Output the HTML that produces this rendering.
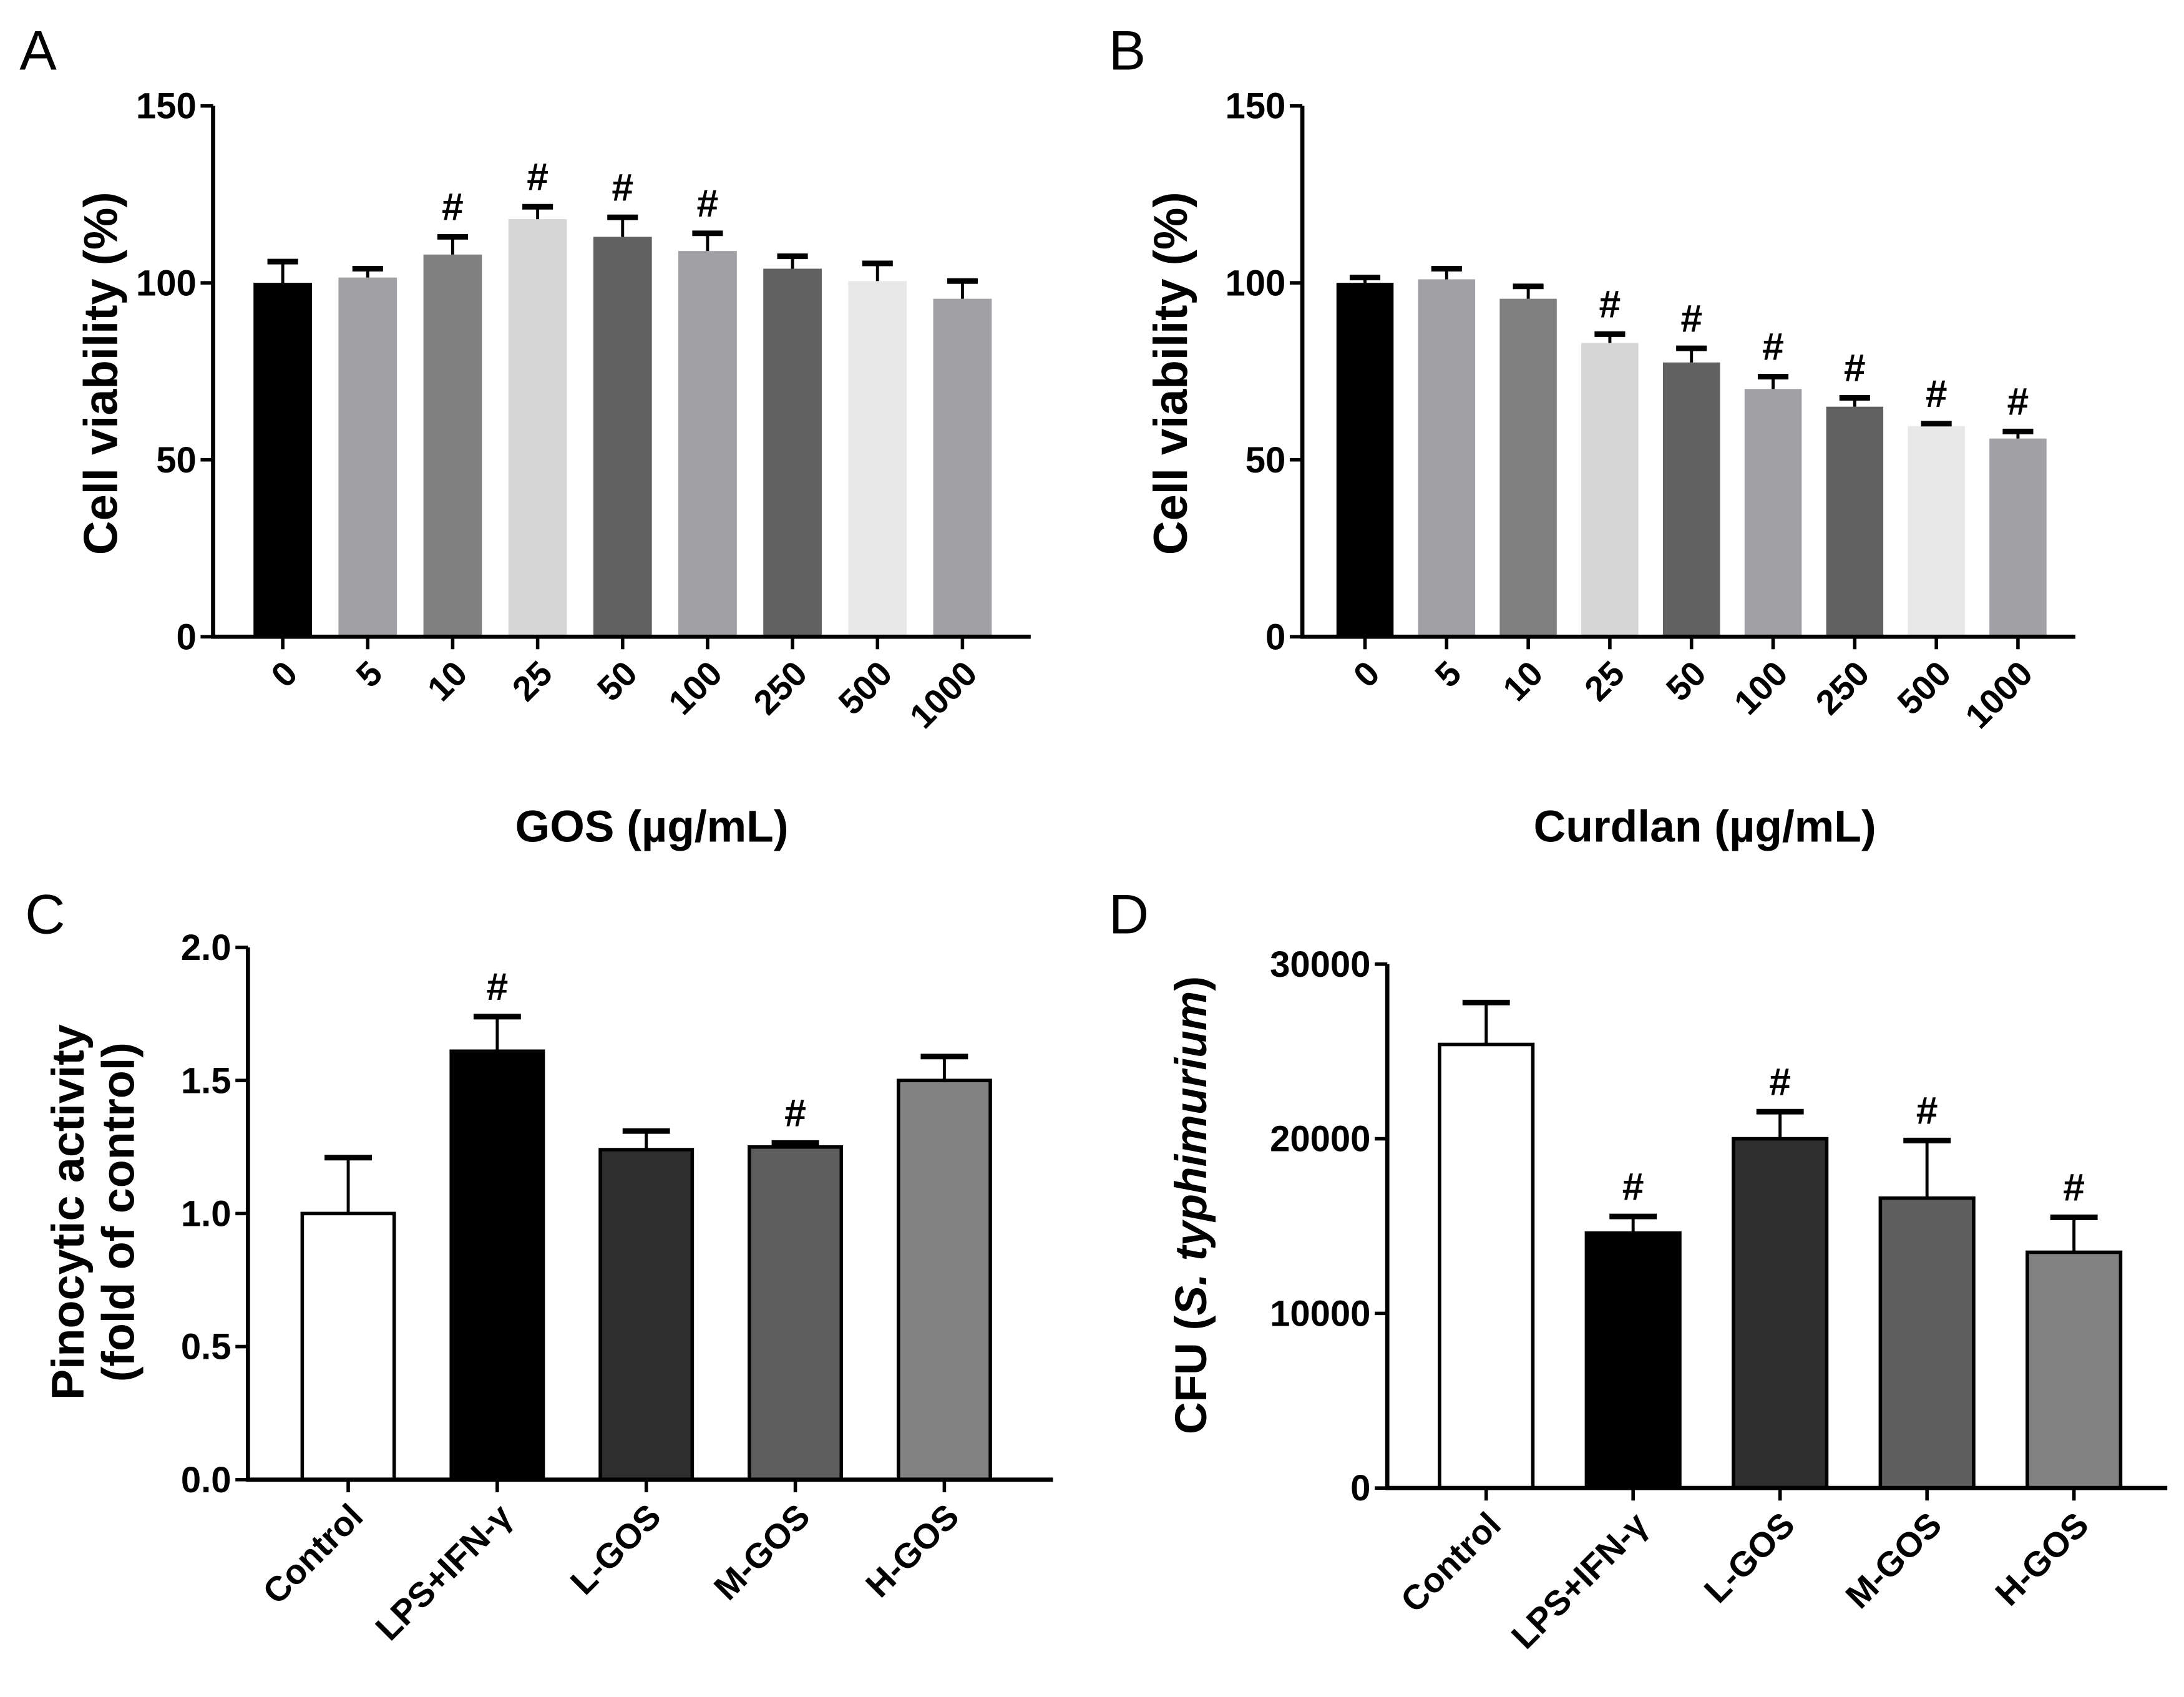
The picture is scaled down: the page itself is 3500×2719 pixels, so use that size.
<!DOCTYPE html>
<html><head><meta charset="utf-8"><style>
html,body{margin:0;padding:0;background:#fff}
svg{display:block}
text{font-family:"Liberation Sans",Arial,sans-serif;font-weight:bold;fill:#000}
.pl{font-weight:normal;font-size:40px}
</style></head><body>
<svg id="fig" xmlns="http://www.w3.org/2000/svg" width="3500" height="2719" viewBox="0 0 1568 1218" preserveAspectRatio="none">
<rect width="1568" height="1218" fill="#fff"/>
<text class="pl" x="14" y="50">A</text>
<text class="pl" x="796" y="50">B</text>
<text class="pl" x="18" y="670">C</text>
<text class="pl" x="796" y="670">D</text>
</svg>
<script>
// Panel A data
const aCategories = ["0","5","10","25","50","100","250","500","1000"];
const aValues = [100,101.5,108,118,113,109,104,100.5,95.5];
const aErrors = [6,2.5,5,3.5,5.5,5,3.5,5,5];
const aSig = [0,0,1,1,1,1,0,0,0];
const aTicks = [0,50,100,150];
// Panel B data
const bCategories = ["0","5","10","25","50","100","250","500","1000"];
const bValues = [100,101,95.5,83,77.5,70,65,59.5,56];
const bErrors = [1.5,3,3.5,2.5,4,3.5,2.5,0.7,2];
const bSig = [0,0,0,1,1,1,1,1,1];
const bTicks = [0,50,100,150];
// Panel C data
const cCategories = ["Control","LPS+IFN-\u03B3","L-GOS","M-GOS","H-GOS"];
const cValues = [1.0,1.61,1.24,1.25,1.50];
const cErrors = [0.21,0.13,0.07,0.015,0.09];
const cSig = [0,1,0,1,0];
const cTicks = [0,0.5,1.0,1.5,2.0];
const cTickLabels = ["0.0","0.5","1.0","1.5","2.0"];
// Panel D data
const dCategories = ["Control","LPS+IFN-\u03B3","L-GOS","M-GOS","H-GOS"];
const dValues = [25400,14600,20000,16600,13500];
const dErrors = [2400,950,1550,3300,2000];
const dSig = [0,1,1,1,1];
const dTicks = [0,10000,20000,30000];

const NS="http://www.w3.org/2000/svg";
const svg=document.getElementById('fig');
function mk(tag,attrs,parent){const e=document.createElementNS(NS,tag);for(const k in attrs)e.setAttribute(k,attrs[k]);(parent||svg).appendChild(e);return e;}

function panel(p){
  const g=mk('g',{});
  
  
  const ys=v=>p.y0-(v-p.ymin)/(p.ymax-p.ymin)*(p.y0-p.y1);
  const xs=i=>p.c0+i*p.step;
  p.vals.forEach((v,i)=>{
    const x=xs(i),top=ys(v),et=ys(v+p.errs[i]);
    const r=mk('rect',{x:x-p.bw/2,y:top,width:p.bw,height:p.y0-top,fill:p.colors[i],stroke:p.outline?'#000':'none','stroke-width':p.outline?2.5:0},g);
    
    
    const eb=mk('path',{d:`M${x} ${top}V${et}`,stroke:'#000','stroke-width':2.2,fill:'none'},g);
    
    
    const ec=mk('line',{x1:x-p.cap/2,x2:x+p.cap/2,y1:et,y2:et,stroke:'#000','stroke-width':4},g);
    
    
    if(p.sig[i]){
      const t=mk('text',{x:x,y:et-12,'text-anchor':'middle','font-size':28},g);
      t.textContent='#';
      
      
    }
    mk('line',{x1:x,x2:x,y1:p.y0,y2:p.y0+9,stroke:'#000','stroke-width':2.5},g);
    const tl=mk('text',{x:0,y:0,'text-anchor':'end','font-size':p.xfs,transform:`translate(${x+p.xlo},${p.y0+p.xly}) rotate(-45)`},g);
    tl.textContent=p.cats[i];
    
    
  });
  const ax=mk('path',{d:`M${p.ax} ${p.y1}V${p.y0}H${p.xend}`,stroke:'#000','stroke-width':3,fill:'none'},g);
  
  
  p.ticks.forEach((t,i)=>{
    const y=ys(t);
    mk('line',{x1:p.ax-9,x2:p.ax,y1:y,y2:y,stroke:'#000','stroke-width':2.5},g);
    const tx=mk('text',{x:p.ax-12,y:y+9,'text-anchor':'end','font-size':26},g);
    tx.textContent=p.tickLabels?p.tickLabels[i]:String(t);
    
    
  });
  p.ytitle.forEach((s,k)=>{
    const yt=mk('text',{x:0,y:0,'text-anchor':'middle','font-size':p.ytfs,transform:`translate(${p.ytx+k*36},${p.yty}) rotate(-90)`},g);
    yt.innerHTML=s;
    
    
  });
  if(p.xtitle){
    const xt=mk('text',{x:p.xtx,y:p.xty,'text-anchor':'middle','font-size':32},g);
    xt.textContent=p.xtitle;
    
    
  }
}
const grayA=['#000','#a1a1a5','#808080','#d6d6d6','#616161','#a1a1a5','#616161','#e8e8e8','#a1a1a5'];
panel({name:'chart-a-gos-viability',cats:aCategories,vals:aValues,errs:aErrors,sig:aSig,ticks:aTicks,ymin:0,ymax:150,y0:457,y1:76,ax:153,xend:740,c0:203,step:61,bw:42,cap:22,colors:grayA,outline:false,xfs:25,xlo:12,xly:28,ytitle:['Cell viability (%)'],ytfs:34,ytx:84,yty:268,xtitle:'GOS (\u00B5g/mL)',xtx:468,xty:604});
panel({name:'chart-b-curdlan-viability',cats:bCategories,vals:bValues,errs:bErrors,sig:bSig,ticks:bTicks,ymin:0,ymax:150,y0:457,y1:76,ax:935,xend:1490,c0:980,step:58.6,bw:41,cap:22,colors:grayA,outline:false,xfs:25,xlo:12,xly:28,ytitle:['Cell viability (%)'],ytfs:34,ytx:852,yty:268,xtitle:'Curdlan (\u00B5g/mL)',xtx:1224,xty:604});
panel({name:'chart-c-pinocytic',cats:cCategories,vals:cValues,errs:cErrors,sig:cSig,ticks:cTicks,tickLabels:cTickLabels,ymin:0,ymax:2,y0:1062,y1:680,ax:178,xend:756,c0:250,step:107,bw:66,cap:34,colors:['#fff','#000','#2e2e2e','#5e5e5e','#828282'],outline:true,xfs:25,xlo:12,xly:28,ytitle:['Pinocytic activity','(fold of control)'],ytfs:33,ytx:60,yty:870});
panel({name:'chart-d-cfu',cats:dCategories,vals:dValues,errs:dErrors,sig:dSig,ticks:dTicks,ymin:0,ymax:30000,y0:1068,y1:692,ax:996,xend:1556,c0:1067,step:105.5,bw:67,cap:34,colors:['#fff','#000','#2e2e2e','#5e5e5e','#828282'],outline:true,xfs:25,xlo:12,xly:28,ytitle:['CFU (<tspan font-style="italic">S. typhimurium</tspan>)'],ytfs:32,ytx:866,yty:865});
</script>
</body></html>
